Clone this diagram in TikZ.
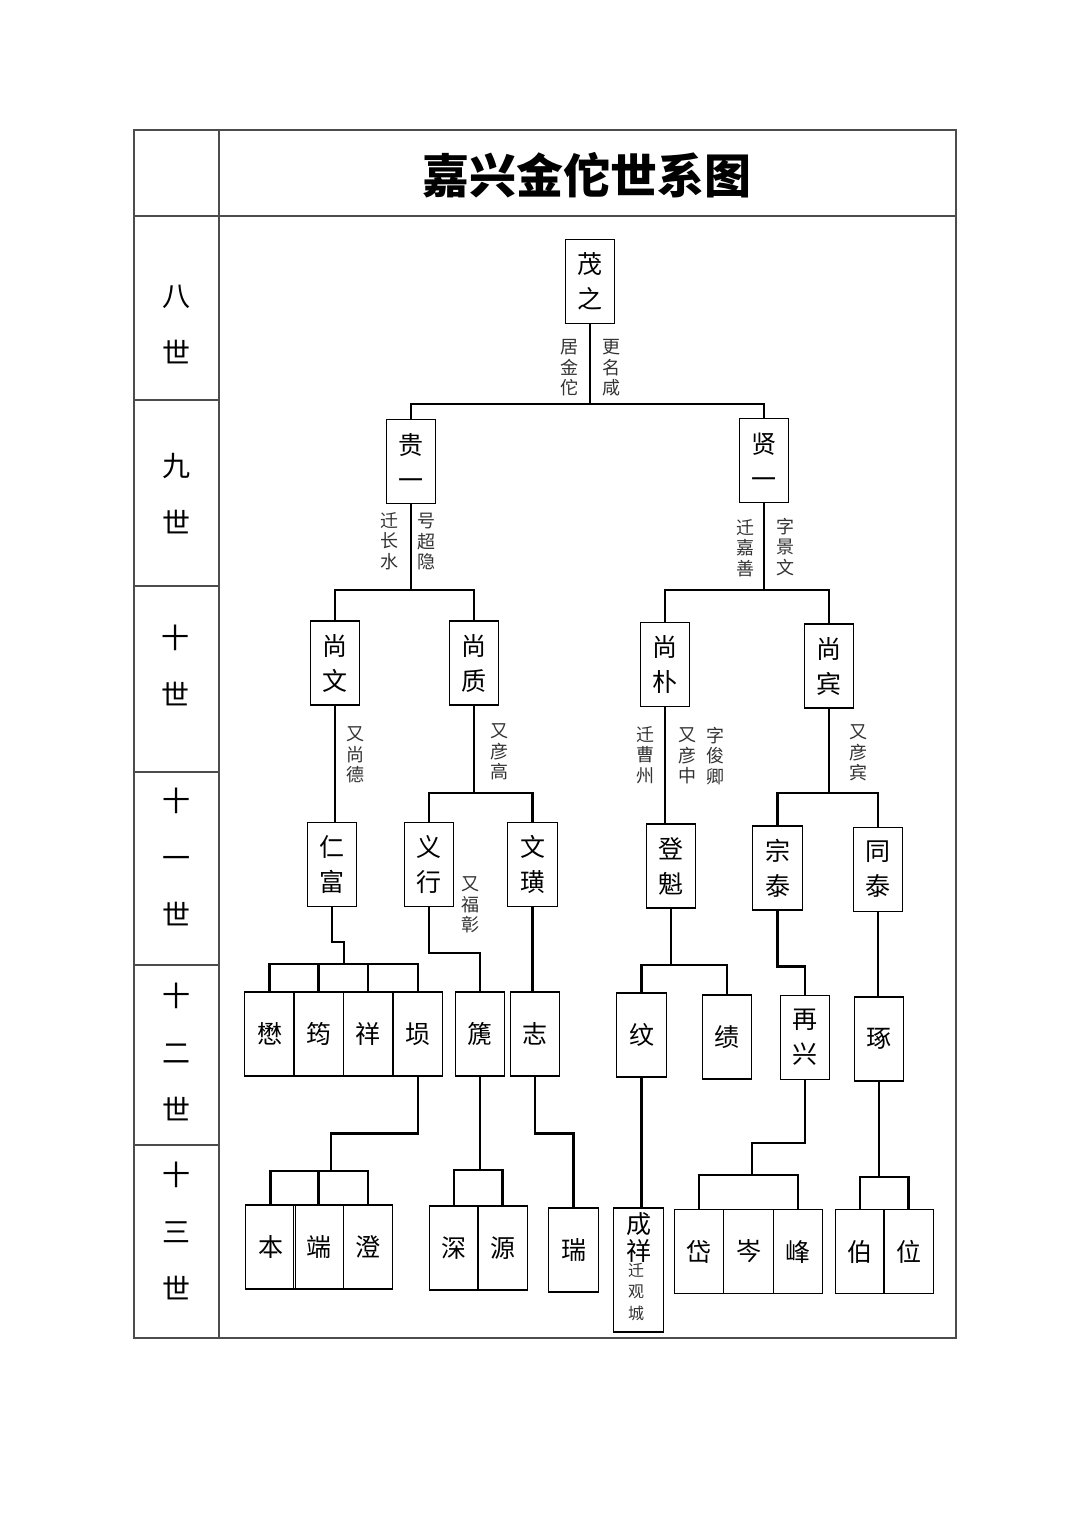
\documentclass[tikz,border=0pt]{standalone}
\usepackage{fontspec}
\newfontfamily\cjk{Noto Sans CJK SC}
\begin{document}
\begin{tikzpicture}[x=1pt, y=-1pt,
    namebox/.style={draw, line width=1.3pt, minimum width=49.5pt, minimum height=84pt,
        inner sep=0pt, align=center, font=\cjk\fontsize{25}{35}\selectfont},
    note/.style={align=center, text=black!80, inner sep=0pt, font=\cjk\fontsize{18}{20.5}\selectfont},
    gen/.style={align=center, inner sep=0pt, font=\cjk\fontsize{28}{57}\selectfont},
    link/.style={line width=2.4pt}]

    % 1. Khung bảng
    \fill[white] (0,0) rectangle (1080,1527);
    \useasboundingbox (0,0) rectangle (1080,1527);
    \draw[black!70, line width=1.2pt] (134,130) rectangle (956,1338);
    \draw[black!70, line width=1.2pt] (219,130) -- (219,1338);
    \draw[black!70, line width=1.2pt] (134,216) -- (956,216);
    \foreach \y in {400,586,772,965,1145}
        \draw[black!70, line width=1.2pt] (134,\y) -- (219,\y);

    % Tiêu đề
    \node[font=\cjk\fontsize{47}{50}\selectfont\bfseries] (title) at (587,175) {嘉兴金佗世系图};

    % 2. Cột thế hệ
    \node[gen] (g8)  at (176,324)  {八\\世};
    \node[gen] (g9)  at (176,494)  {九\\世};
    \node[gen] (g10) at (175,665)  {十\\世};
    \node[gen] (g11) at (176,857)  {十\\一\\世};
    \node[gen] (g12) at (176,1052) {十\\二\\世};
    \node[gen] (g13) at (176,1231) {十\\三\\世};

    % 3. Các ô tên
    \node[namebox] (maozhi)   at (590,281.5)  {茂\\之};
    \node[namebox] (guiyi)    at (411,461.5)  {贵\\一};
    \node[namebox] (xianyi)   at (764,460.5)  {贤\\一};
    \node[namebox] (shangwen) at (335,663)    {尚\\文};
    \node[namebox] (shangzhi) at (474,663)    {尚\\质};
    \node[namebox] (shangpu)  at (665,664.5)  {尚\\朴};
    \node[namebox] (shangbin) at (829,666)    {尚\\宾};
    \node[namebox] (renfu)    at (332,864.5)  {仁\\富};
    \node[namebox] (yixing)   at (429,864.5)  {义\\行};
    \node[namebox] (wenhuang) at (532.5,864.5){文\\璜};
    \node[namebox] (dengkui)  at (671,866)    {登\\魁};
    \node[namebox] (zongtai)  at (777.5,868)  {宗\\泰};
    \node[namebox] (tongtai)  at (878,869.5)  {同\\泰};

    \node[namebox] (mao)     at (269.5,1034) {懋};
    \node[namebox] (yun)     at (318.5,1034) {筠};
    \node[namebox] (xiang)   at (368,1034)   {祥};
    \node[namebox] (xun)     at (418,1034)   {埙};
    \node[namebox] (chi)     at (480,1034)   {篪};
    \node[namebox] (zhi)     at (535,1034)   {志};
    \node[namebox] (wen)     at (641.5,1035) {纹};
    \node[namebox] (ji)      at (727,1037)   {绩};
    \node[namebox] (zaixing) at (805,1037.5) {再\\兴};
    \node[namebox] (zhuo)    at (879,1039)   {琢};

    \node[namebox] (ben)   at (270.5,1247)  {本};
    \node[namebox] (duan)  at (318.5,1247)  {端};
    \node[namebox] (cheng) at (368,1247)    {澄};
    \node[namebox] (shen)  at (454,1248)    {深};
    \node[namebox] (yuan)  at (502.5,1248)  {源};
    \node[namebox] (rui)   at (573.5,1250)  {瑞};
    \node[namebox, minimum height=124pt] (chengxiang) at (638.5,1270) {};
    \node[font=\cjk\fontsize{25}{27}\selectfont, align=center, inner sep=0pt] (cxname)
        at (638.5,1237) {成\\祥};
    \node[note, font=\cjk\fontsize{16}{21.5}\selectfont] (cxnote) at (636,1292) {迁\\观\\城};
    \node[namebox] (dai)   at (699,1251.5)  {岱};
    \node[namebox] (cen)   at (748.5,1251.5){岑};
    \node[namebox] (feng)  at (798,1251.5)  {峰};
    \node[namebox] (bo)    at (860,1251.5)  {伯};
    \node[namebox] (wei)   at (908.5,1251.5){位};

    % 4. Điểm nối
    \coordinate (j8)   at (590,404);
    \coordinate (j9a)  at (411,590);
    \coordinate (j9b)  at (764,590);
    \coordinate (j10a) at (474,793);
    \coordinate (j10b) at (829,793);
    \coordinate (j11a) at (344,964);
    \coordinate (j12a) at (671,965);
    \coordinate (j13a) at (331,1171);
    \coordinate (j13b) at (480,1170);
    \coordinate (j13c) at (752,1175);
    \coordinate (j13d) at (879,1177);

    % 5. Đường nối
    \draw[link] (maozhi.south) -- (j8);
    \draw[link] (guiyi.north) |- (j8) -| (xianyi.north);
    \draw[link] (guiyi.south) -- (j9a);
    \draw[link] (shangwen.north) |- (j9a) -| (shangzhi.north);
    \draw[link] (xianyi.south) -- (j9b);
    \draw[link] (shangpu.north) |- (j9b) -| (shangbin.north);

    \draw[link] (shangwen.south) -- (shangwen.south |- renfu.north);
    \draw[link] (shangzhi.south) -- (j10a);
    \draw[link] (yixing.north) |- (j10a) -| (wenhuang.north);
    \draw[link] (shangpu.south) -- (shangpu.south |- dengkui.north);
    \draw[link] (shangbin.south) -- (j10b);
    \draw[link] (zongtai.north) |- (j10b) -| (tongtai.north);

    \draw[link] (renfu.south) -- ++(0,35) -| (j11a);
    \draw[link] (mao.north) |- (j11a) -| (xun.north);
    \draw[link] (yun.north) -- (yun.north |- j11a);
    \draw[link] (xiang.north) -- (xiang.north |- j11a);
    \draw[link] (yixing.south) -- ++(0,46) -| (chi.north);
    \draw[link] (wenhuang.south) -- (wenhuang.south |- zhi.north);
    \draw[link] (dengkui.south) -- (j12a);
    \draw[link] (wen.north) |- (j12a) -| (ji.north);
    \draw[link] (zongtai.south) -- ++(0,56) -| (zaixing.north);
    \draw[link] (tongtai.south) -- (tongtai.south |- zhuo.north);

    \draw[link] (xun.south) -- ++(0,57) -| (j13a);
    \draw[link] (ben.north) |- (j13a) -| (cheng.north);
    \draw[link] (duan.north) -- (duan.north |- j13a);
    \draw[link] (chi.south) -- (j13b);
    \draw[link] (shen.north) |- (j13b) -| (yuan.north);
    \draw[link] (zhi.south) -- ++(0,57) -| (rui.north);
    \draw[link] (wen.south) -- (wen.south |- chengxiang.north);
    \draw[link] (zaixing.south) -- ++(0,63) -| (j13c);
    \draw[link] (dai.north) |- (j13c) -| (feng.north);
    \draw[link] (zhuo.south) -- (j13d);
    \draw[link] (bo.north) |- (j13d) -| (wei.north);

    % 6. Chú thích dọc
    \node[note] (n1)  at (569,368) {居\\金\\佗};
    \node[note] (n2)  at (611,368) {更\\名\\咸};
    \node[note] (n3)  at (389,541) {迁\\长\\水};
    \node[note] (n4)  at (426,542) {号\\超\\隐};
    \node[note] (n5)  at (745,548) {迁\\嘉\\善};
    \node[note] (n6)  at (785,547) {字\\景\\文};
    \node[note] (n7)  at (355,755) {又\\尚\\德};
    \node[note] (n8)  at (499,752) {又\\彦\\高};
    \node[note] (n9)  at (470,905) {又\\福\\彰};
    \node[note] (n10) at (645,755) {迁\\曹\\州};
    \node[note] (n11) at (687,756) {又\\彦\\中};
    \node[note] (n12) at (715,756) {字\\俊\\卿};
    \node[note] (n13) at (858,753) {又\\彦\\宾};

\end{tikzpicture}
\end{document}
